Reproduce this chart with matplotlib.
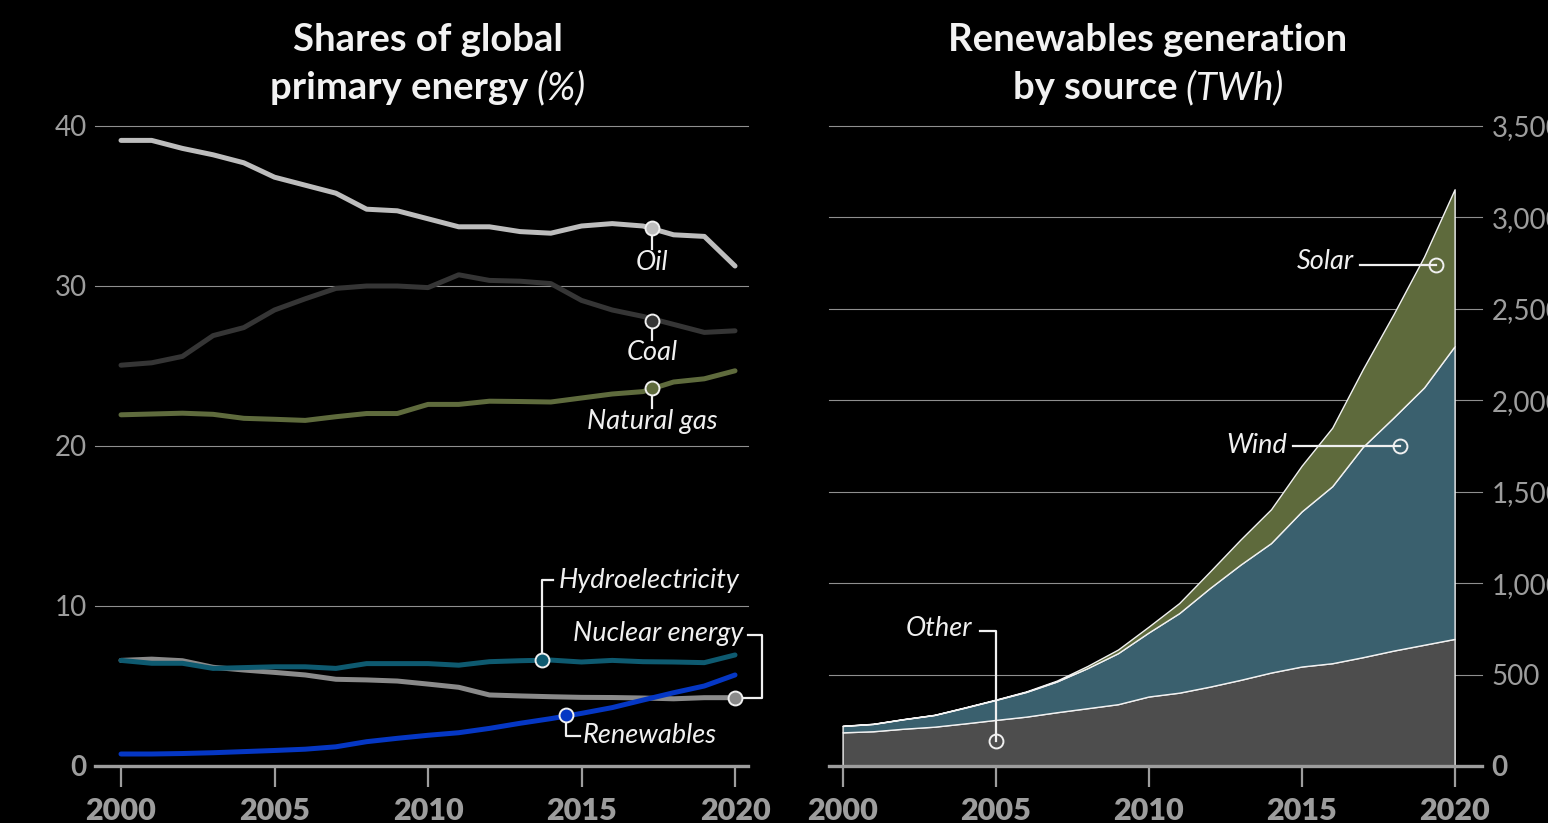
import matplotlib
matplotlib.use('Agg')
import matplotlib.pyplot as plt

# ---------------- data ----------------
years = list(range(2000, 2021))

oil        = [39.1, 39.1, 38.6, 38.2, 37.7, 36.8, 36.3, 35.8, 34.8, 34.7, 34.2,
              33.7, 33.7, 33.4, 33.3, 33.75, 33.9, 33.75, 33.2, 33.1, 31.25]
coal       = [25.05, 25.2, 25.6, 26.9, 27.4, 28.5, 29.2, 29.85, 30.0, 30.0, 29.9,
              30.7, 30.35, 30.3, 30.15, 29.1, 28.5, 28.1, 27.6, 27.1, 27.2]
natural_gas = [21.95, 22.0, 22.05, 21.98, 21.73, 21.67, 21.6, 21.83, 22.03, 22.03, 22.6,
               22.6, 22.8, 22.78, 22.75, 23.0, 23.25, 23.4, 24.0, 24.2, 24.7]
hydro      = [6.6, 6.42, 6.42, 6.1, 6.15, 6.2, 6.2, 6.1, 6.4, 6.4, 6.4,
              6.3, 6.52, 6.58, 6.62, 6.5, 6.6, 6.52, 6.5, 6.46, 6.94]
nuclear    = [6.6, 6.68, 6.58, 6.17, 6.0, 5.85, 5.69, 5.42, 5.38, 5.31, 5.12,
              4.92, 4.44, 4.38, 4.33, 4.29, 4.28, 4.25, 4.2, 4.27, 4.27]
renewables = [0.75, 0.75, 0.78, 0.83, 0.9, 0.97, 1.05, 1.2, 1.52, 1.73, 1.92,
              2.08, 2.35, 2.67, 2.96, 3.29, 3.65, 4.12, 4.58, 5.0, 5.69]

other_twh = [184, 190, 204, 215, 233, 252, 270, 294, 316, 338, 380,
             401, 434, 471, 511, 544, 562, 595, 631, 663, 695]
wind_twh  = [35, 40, 52, 64, 86, 109, 135, 168, 219, 279, 350,
             435, 539, 630, 708, 848, 968, 1150, 1274, 1407, 1601]
solar_twh = [1, 1, 1, 1, 2, 2, 3, 5, 12, 20, 32,
             55, 90, 137, 185, 250, 320, 425, 565, 715, 858]

left_yticks = [0, 10, 20, 30, 40]
right_yticks = [0, 500, 1000, 1500, 2000, 2500, 3000, 3500]
xticks = [2000, 2005, 2010, 2015, 2020]

# ---------------- style ----------------
plt.rcParams['font.family'] = ['Lato', 'DejaVu Sans']
BG = 'black'
GRID = '#8f8f8f'
TICK = '#9d9d9d'
LABEL = '#f0f0f0'

C_OIL, C_COAL, C_GAS = '#bdbdbd', '#353535', '#5f6b3d'
C_HYDRO, C_NUC, C_REN = '#0e5a70', '#8a8a8a', '#0537c4'
C_OTHER, C_WIND, C_SOLAR = '#4d4d4d', '#3a606e', '#5e6a3c'

W, H = 1548, 823
fig = plt.figure(figsize=(W / 100, H / 100), dpi=100, facecolor=BG)


def px_axes(l, r, b, t):
    return fig.add_axes([l / W, 1 - b / H, (r - l) / W, (b - t) / H])


ax1 = px_axes(95, 748, 766, 126)
ax2 = px_axes(829, 1482, 766, 126)

for ax in (ax1, ax2):
    ax.set_facecolor(BG)
    for s in ax.spines.values():
        s.set_visible(False)
    ax.tick_params(axis='x', length=15, width=1.6, color=TICK, pad=7,
                   labelsize=22, labelcolor=TICK)
    ax.tick_params(axis='y', length=0, labelsize=20, labelcolor=TICK, pad=6)

# ---------------- left panel ----------------
ax1.set_xlim(1999.153, 2020.423)
ax1.set_ylim(0, 40)
ax1.set_yticks(left_yticks, [str(v) for v in left_yticks])
for v in left_yticks[1:]:
    ax1.axhline(v, color=GRID, lw=0.8, zorder=0, clip_on=False)
ax1.axhline(0, color=TICK, lw=2.4, zorder=1, clip_on=False)

lw = 3.6
series = [(oil, C_OIL), (coal, C_COAL), (natural_gas, C_GAS),
          (nuclear, C_NUC), (hydro, C_HYDRO), (renewables, C_REN)]
for vals, col in series:
    ax1.plot(years, vals, color=col, lw=lw, solid_capstyle='round',
             solid_joinstyle='round', zorder=3)

ann_kw = dict(color=LABEL, fontsize=19.5, fontstyle='italic', fontweight='normal')
con_kw = dict(color=LABEL, lw=1.6, zorder=4, clip_on=False)
mk_kw = dict(marker='o', ms=10, mec=LABEL, mew=1.4, zorder=5, clip_on=False)

# Oil / Coal / Natural gas (vertical leaders)
for (xm, ym, yline, ylab, text, col) in [
        (2017.3, 33.6, 32.3, 31.5, 'Oil', C_OIL),
        (2017.3, 27.8, 26.6, 25.85, 'Coal', C_COAL),
        (2017.3, 23.6, 22.35, 21.5, 'Natural gas', C_GAS)]:
    ax1.plot([xm, xm], [ym, yline], **con_kw)
    ax1.plot([xm], [ym], color=col, **mk_kw)
    ax1.text(xm, ylab, text, ha='center', va='center', **ann_kw)

# Hydroelectricity
ax1.plot([2013.7, 2013.7, 2014.07], [6.6, 11.6, 11.6], **con_kw)
ax1.plot([2013.7], [6.6], color=C_HYDRO, **mk_kw)
ax1.text(2014.25, 11.6, 'Hydroelectricity', ha='left', va='center', **ann_kw)

# Nuclear energy
ax1.plot([2020.0, 2020.88, 2020.88, 2020.42], [4.23, 4.23, 8.2, 8.2], **con_kw)
ax1.plot([2020.0], [4.23], color=C_NUC, **mk_kw)
ax1.text(2020.28, 8.3, 'Nuclear energy', ha='right', va='center', **ann_kw)

# Renewables
ax1.plot([2014.5, 2014.5, 2014.95], [3.17, 1.88, 1.88], **con_kw)
ax1.plot([2014.5], [3.17], color=C_REN, **mk_kw)
ax1.text(2015.05, 1.88, 'Renewables', ha='left', va='center', **ann_kw)

# ---------------- right panel ----------------
ax2.set_xlim(1999.556, 2020.895)
ax2.set_ylim(0, 3500)
ax2.yaxis.tick_right()
ax2.set_yticks(right_yticks, [f'{v:,}' for v in right_yticks])
ax2.tick_params(axis='y', pad=7)
for v in right_yticks[1:]:
    ax2.axhline(v, color=GRID, lw=0.8, zorder=0, clip_on=False)

ax2.stackplot(years, other_twh, wind_twh, solar_twh,
              colors=[C_OTHER, C_WIND, C_SOLAR],
              edgecolor='#f2f2f2', linewidth=1.0, zorder=2)
ax2.axhline(0, color=TICK, lw=2.4, zorder=3, clip_on=False)

mk2 = dict(marker='o', ms=10, mfc='none', mec=LABEL, mew=1.4, zorder=6, clip_on=False)

# Solar
ax2.plot([2016.91, 2019.39], [2738, 2738], **con_kw)
ax2.plot([2019.39], [2738], **mk2)
ax2.text(2016.7, 2760, 'Solar', ha='right', va='center', **ann_kw)

# Wind
ax2.plot([2014.72, 2018.22], [1752, 1752], **con_kw)
ax2.plot([2018.22], [1752], **mk2)
ax2.text(2014.52, 1752, 'Wind', ha='right', va='center', **ann_kw)

# Other
ax2.plot([2004.49, 2005.01, 2005.01], [739, 739, 137], **con_kw)
ax2.plot([2005.01], [137], **mk2)
ax2.text(2004.23, 750, 'Other', ha='right', va='center', **ann_kw)

# x tick labels: heavy years
for ax in (ax1, ax2):
    ax.set_xticks(xticks, [str(x) for x in xticks], fontweight='heavy',
                  fontsize=22, color=TICK)

# ---------------- titles ----------------
renderer = fig.canvas.get_renderer()


def title_line(cx, base_y, bold, light=None):
    t1 = fig.text(0, 1 - base_y / H, bold, fontsize=27.5, fontweight='bold',
                  color='#f2f2f2', ha='left', va='baseline')
    parts = [t1]
    if light:
        t2 = fig.text(0, 1 - base_y / H, light, fontsize=27.5, fontstyle='italic',
                      fontweight='normal', color='#f2f2f2', ha='left', va='baseline')
        parts.append(t2)
    widths = [p.get_window_extent(renderer).width for p in parts]
    total = sum(widths)
    x = cx - total / 2
    for p, w in zip(parts, widths):
        p.set_x(x / W)
        x += w


title_line(428, 51, 'Shares of global')
title_line(428, 99, 'primary energy', ' (%)')
title_line(1148, 51, 'Renewables generation')
title_line(1148, 99, 'by source', ' (TWh)')

# bold zero labels on the y axes
for ax in (ax1, ax2):
    for tk in ax.yaxis.get_major_ticks():
        for lab in (tk.label1, tk.label2):
            if lab.get_text() == '0':
                lab.set_fontweight('bold')

fig.savefig('out.png', dpi=100, facecolor=BG)
